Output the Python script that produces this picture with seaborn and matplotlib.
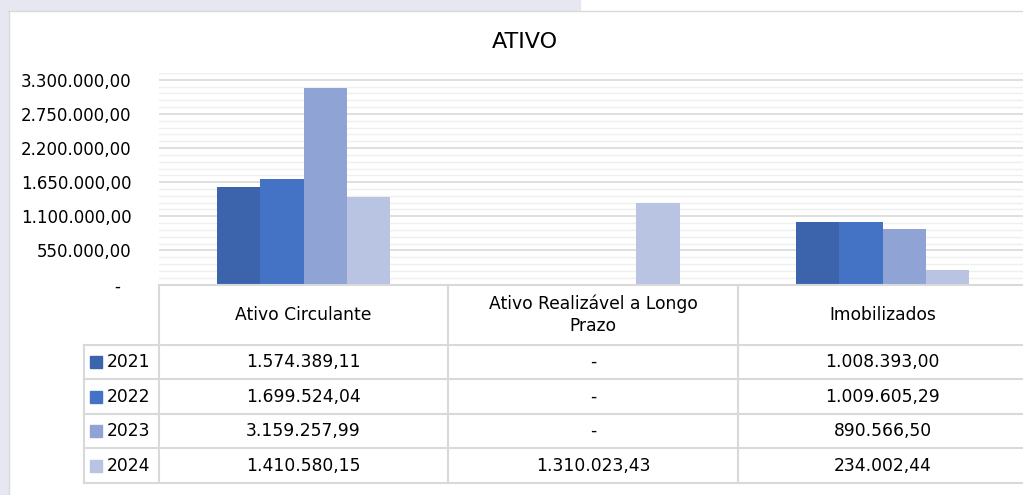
import pandas as pd
import seaborn as sns
import matplotlib.pyplot as plt
from matplotlib.patches import Rectangle
from matplotlib.ticker import MultipleLocator, FuncFormatter

# Dados do gráfico
categorias = ['Ativo Circulante', 'Ativo Realizável a Longo Prazo', 'Imobilizados']
rotulos_tabela = ['Ativo Circulante', 'Ativo Realizável a Longo\nPrazo', 'Imobilizados']
anos = ['2021', '2022', '2023', '2024']
v2021 = [1574389.11, 0, 1008393.00]
v2022 = [1699524.04, 0, 1009605.29]
v2023 = [3159257.99, 0, 890566.50]
v2024 = [1410580.15, 1310023.43, 234002.44]
cores = ['#3C64AD', '#4472C4', '#8FA4D5', '#B9C3E2']

valores = {'2021': v2021, '2022': v2022, '2023': v2023, '2024': v2024}
df = pd.DataFrame([
    {'categoria': c, 'ano': a, 'valor': valores[a][i]}
    for a in anos for i, c in enumerate(categorias)
])


def fmt_br(v, pos=None):
    if v == 0:
        return '-  '
    s = f"{v:,.2f}"
    return s.replace(',', 'X').replace('.', ',').replace('X', '.')


W, H = 1023, 495
fig = plt.figure(figsize=(W / 100, H / 100), dpi=100)
fig.patch.set_facecolor('white')

# fundo (faixa lavanda do slide)
fig.patches.append(Rectangle((0, 1 - 10 / H), 580 / W, 10 / H, transform=fig.transFigure,
                             color='#E7E7F1', zorder=0))
fig.patches.append(Rectangle((0, 0), 8 / W, 1, transform=fig.transFigure,
                             color='#E7E7F1', zorder=0))
fig.lines.append(plt.Line2D([8 / W, 1], [1 - 10.5 / H] * 2, transform=fig.transFigure,
                            color='#D9D9D9', lw=1))
fig.lines.append(plt.Line2D([8.5 / W] * 2, [0, 1 - 10.5 / H], transform=fig.transFigure,
                            color='#D9D9D9', lw=1))

# layout em pixels
x0, larg_cat = 158.75, 289.5
y_base, y_topo = 284.6, 72.9
ax = fig.add_axes([x0 / W, 1 - y_base / H, 3 * larg_cat / W, (y_base - y_topo) / H])

sns.barplot(data=df, x='categoria', y='valor', hue='ano', palette=cores, width=0.6,
            saturation=1, errorbar=None, legend=False, linewidth=0, ax=ax)

ax.set_xlim(-0.5, 2.5)
ax.set_ylim(0, 3410000)
ax.yaxis.set_major_locator(MultipleLocator(550000))
ax.yaxis.set_minor_locator(MultipleLocator(110000))
ax.yaxis.set_major_formatter(FuncFormatter(fmt_br))
ax.set_yticks([550000 * i for i in range(7)])
ax.grid(which='major', axis='y', color='#D9D9D9', lw=1.2)
ax.grid(which='minor', axis='y', color='#EFEFEF', lw=1)
ax.set_axisbelow(True)
ax.tick_params(axis='y', which='both', length=0, pad=19.5, labelsize=12)
ax.tick_params(axis='x', length=0, labelbottom=False)
ax.set_xlabel('')
ax.set_ylabel('')
for s in ax.spines.values():
    s.set_visible(False)
ax.set_facecolor('none')

fig.text(525 / W, 1 - 41.5 / H, 'ATIVO', ha='center', va='center', fontsize=16)

# tabela de dados
y_tab_base = 483
alt_linha = 34.5
alt_cab = 60.1 / alt_linha
tax = fig.add_axes([x0 / W, 1 - y_tab_base / H, 3 * larg_cat / W, (y_tab_base - y_base) / H])
tax.set_xlim(-0.5, 2.5)
tax.set_ylim(0, 4 + alt_cab)
tax.axis('off')

cor_linha = '#D9D9D9'
x_esq = -0.5 - 75 / larg_cat
for yy in range(5):
    tax.plot([x_esq, 2.6], [yy, yy], color=cor_linha, lw=1.5, clip_on=False)
tax.plot([-0.5, 2.6], [4 + alt_cab] * 2, color=cor_linha, lw=1.5, clip_on=False)
tax.plot([x_esq, x_esq], [0, 4], color=cor_linha, lw=1.5, clip_on=False)
for xx in [-0.5, 0.5, 1.5, 2.5]:
    tax.plot([xx, xx], [0, 4 + alt_cab], color=cor_linha, lw=1.5, clip_on=False)

for i, rot in enumerate(rotulos_tabela):
    tax.text(i, 4 + alt_cab / 2, rot, ha='center', va='center', fontsize=12.3,
             linespacing=1.3)

x_quad = -0.5 + (95.5 - x0) / larg_cat
x_ano = -0.5 + (106.5 - x0) / larg_cat
for k, a in enumerate(anos):
    yc = 3.5 - k
    tax.plot([x_quad], [yc], marker='s', markersize=9, color=cores[k], clip_on=False)
    tax.text(x_ano, yc, a, ha='left', va='center', fontsize=12.3)
    for i in range(len(categorias)):
        tax.text(i, yc, fmt_br(valores[a][i]).strip(), ha='center', va='center',
                 fontsize=12.3)

fig.savefig('out.png', dpi=100)
